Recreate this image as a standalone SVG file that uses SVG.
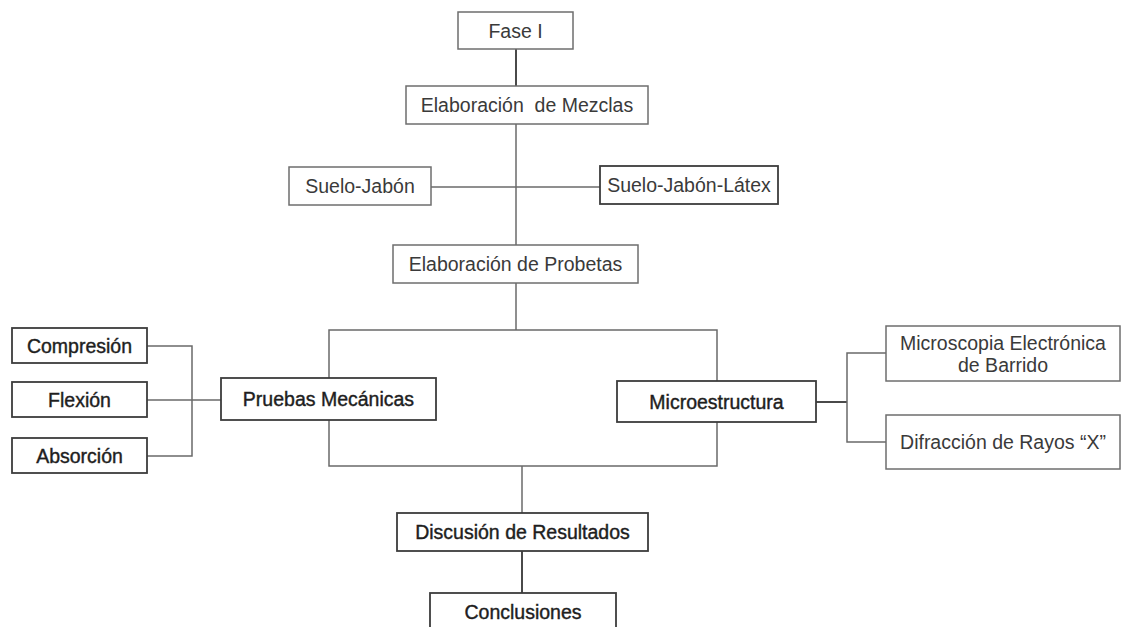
<svg xmlns="http://www.w3.org/2000/svg" width="1133" height="627" viewBox="0 0 1133 627">
<style>
rect{fill:#fff}
.b1{stroke:#6e6e6e;stroke-width:1.5}
.b2{stroke:#3c3c3c;stroke-width:1.8}
text{font-family:"Liberation Sans",Arial,sans-serif;font-size:19.5px;text-anchor:middle}
.t1{fill:#3a3a3a}
.t2{fill:#1e1e1e;stroke:#1e1e1e;stroke-width:0.4}
.c{fill:none;stroke:#6a6a6a;stroke-width:1.5}
.cd{fill:none;stroke:#4a4a4a;stroke-width:2}
</style>
<g id="connectors">
<line class="cd" x1="516" y1="49" x2="516" y2="86"/>
<line class="c" x1="516" y1="124" x2="516" y2="245"/>
<line class="c" x1="431" y1="187" x2="600" y2="187"/>
<line class="c" x1="516" y1="283" x2="516" y2="330"/>
<polyline class="c" points="329,378 329,330 717,330 717,381"/>
<polyline class="c" points="329,420 329,466 717,466 717,422"/>
<line class="c" x1="522" y1="466" x2="522" y2="513"/>
<line class="cd" x1="522" y1="551" x2="522" y2="593"/>
<polyline class="c" points="147,346 192,346 192,456 147,456"/>
<line class="c" x1="147" y1="400" x2="221" y2="400"/>
<line class="cd" x1="816" y1="402" x2="847" y2="402"/>
<polyline class="c" points="886,353 847,353 847,442 886,442"/>
</g>
<g id="fase1"><rect class="b1" x="458" y="12" width="115" height="37"/><text class="t1" x="515.5" y="37.5">Fase I</text></g>
<g id="mezclas"><rect class="b1" x="406" y="86" width="242" height="38"/><text class="t1" x="527" y="112" xml:space="preserve">Elaboración  de Mezclas</text></g>
<g id="suelo-jabon"><rect class="b1" x="289" y="167" width="142" height="38"/><text class="t1" x="360" y="193">Suelo-Jabón</text></g>
<g id="suelo-jabon-latex"><rect class="b2" x="600" y="166" width="178" height="38"/><text class="t1" x="689" y="192">Suelo-Jabón-Látex</text></g>
<g id="probetas"><rect class="b1" x="393" y="245" width="245" height="38"/><text class="t1" x="515.5" y="271">Elaboración de Probetas</text></g>
<g id="pruebas"><rect class="b2" x="221" y="378" width="215" height="42"/><text class="t2" x="328.5" y="406">Pruebas Mecánicas</text></g>
<g id="microestructura"><rect class="b2" x="617" y="381" width="199" height="41"/><text class="t2" x="716.5" y="408.5">Microestructura</text></g>
<g id="compresion"><rect class="b2" x="12" y="328" width="135" height="35"/><text class="t2" x="79.5" y="352.5">Compresión</text></g>
<g id="flexion"><rect class="b2" x="12" y="382" width="135" height="35"/><text class="t2" x="79.5" y="406.5">Flexión</text></g>
<g id="absorcion"><rect class="b2" x="12" y="438" width="135" height="35"/><text class="t2" x="79.5" y="462.5">Absorción</text></g>
<g id="microscopia"><rect class="b1" x="886" y="326" width="234" height="55"/><text class="t1" x="1003" y="350">Microscopia Electrónica</text><text class="t1" x="1003" y="372">de Barrido</text></g>
<g id="difraccion"><rect class="b1" x="886" y="415" width="234" height="54"/><text class="t1" x="1003" y="449">Difracción de Rayos “X”</text></g>
<g id="discusion"><rect class="b2" x="397" y="513" width="251" height="38"/><text class="t2" x="522.5" y="539">Discusión de Resultados</text></g>
<g id="conclusiones"><rect class="b2" x="430" y="593" width="186" height="50"/><text class="t2" x="523" y="619">Conclusiones</text></g>
</svg>
